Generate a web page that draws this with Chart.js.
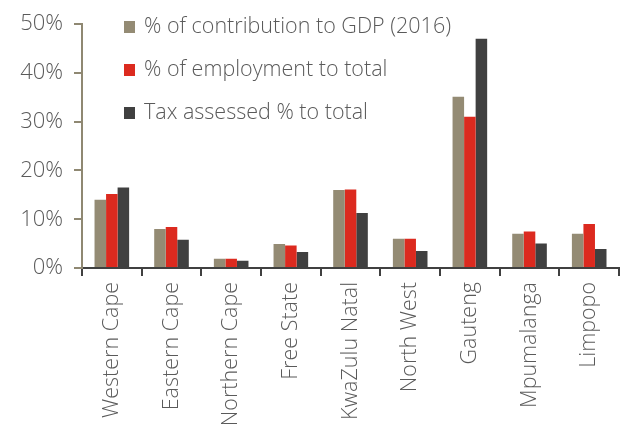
<!DOCTYPE html>
<html>
<head>
<meta charset="utf-8">
<script src="https://cdn.jsdelivr.net/npm/chart.js@4"></script>
<style>
  html, body { margin: 0; padding: 0; background: #fff; }
  #wrap { width: 621px; height: 428px; }
</style>
</head>
<body>
<div id="wrap"><canvas id="chart"></canvas></div>
<script>
const provinces = ["Western Cape", "Eastern Cape", "Northern Cape", "Free State", "KwaZulu Natal", "North West", "Gauteng", "Mpumalanga", "Limpopo"]
const gdpShare = [14.0, 8.0, 1.9, 4.9, 16.0, 6.0, 35.1, 7.0, 7.0]
const employmentShare = [15.2, 8.4, 1.9, 4.6, 16.1, 6.0, 31.0, 7.5, 9.0]
const taxShare = [16.5, 5.8, 1.5, 3.3, 11.3, 3.5, 47.0, 5.0, 3.9]
const seriesNames = ["% of contribution to GDP (2016)", "% of employment to total", "Tax assessed % to total"]
const seriesColors = ["#948b74", "#dc2a1f", "#404040"]

const FONT = "'Open Sans', Lato, sans-serif"
const TEXT = "#5a5a5a"

// legend drawn inside the plot, top left
const insideLegend = {
  id: "insideLegend",
  afterDraw(chart) {
    const ctx = chart.ctx
    ctx.save()
    ctx.font = `300 21.5px ${FONT}`
    ctx.textBaseline = "middle"
    chart.data.datasets.forEach((ds, i) => {
      const y = 27 + i * 43
      ctx.fillStyle = ds.backgroundColor
      ctx.fillRect(124, y - 6, 11, 12)
      ctx.fillStyle = TEXT
      ctx.fillText(ds.label, 144, y)
    })
    ctx.restore()
  }
}

new Chart(document.getElementById("chart"), {
  type: "bar",
  data: {
    labels: provinces,
    datasets: [gdpShare, employmentShare, taxShare].map((values, i) => ({
      label: seriesNames[i],
      data: values,
      backgroundColor: seriesColors[i],
      categoryPercentage: 0.58,
      barPercentage: 1.0
    }))
  },
  options: {
    responsive: true,
    maintainAspectRatio: false,
    animation: false,
    layout: { padding: { top: 21, right: 0, left: 0, bottom: 0 } },
    plugins: {
      legend: { display: false },
      tooltip: { enabled: false }
    },
    scales: {
      x: {
        afterFit: (scale) => { scale.height = 160 },
        grid: { drawOnChartArea: false, drawTicks: true, tickLength: 8, color: "#404040", lineWidth: 2 },
        border: { color: "#404040", width: 2 },
        ticks: {
          color: TEXT,
          font: { family: FONT, size: 21.5, weight: 300 },
          maxRotation: 90,
          minRotation: 90,
          padding: 6
        }
      },
      y: {
        min: 0,
        max: 50,
        afterFit: (scale) => { scale.width = 82 },
        grid: { drawOnChartArea: false, drawTicks: true, tickLength: 8, color: "#8f8872", lineWidth: 2 },
        border: { color: "#8f8872", width: 2 },
        ticks: {
          stepSize: 10,
          color: TEXT,
          font: { family: FONT, size: 22, weight: 300 },
          padding: 11,
          callback: (v) => v + "%"
        }
      }
    }
  },
  plugins: [insideLegend]
})
</script>
</body>
</html>
